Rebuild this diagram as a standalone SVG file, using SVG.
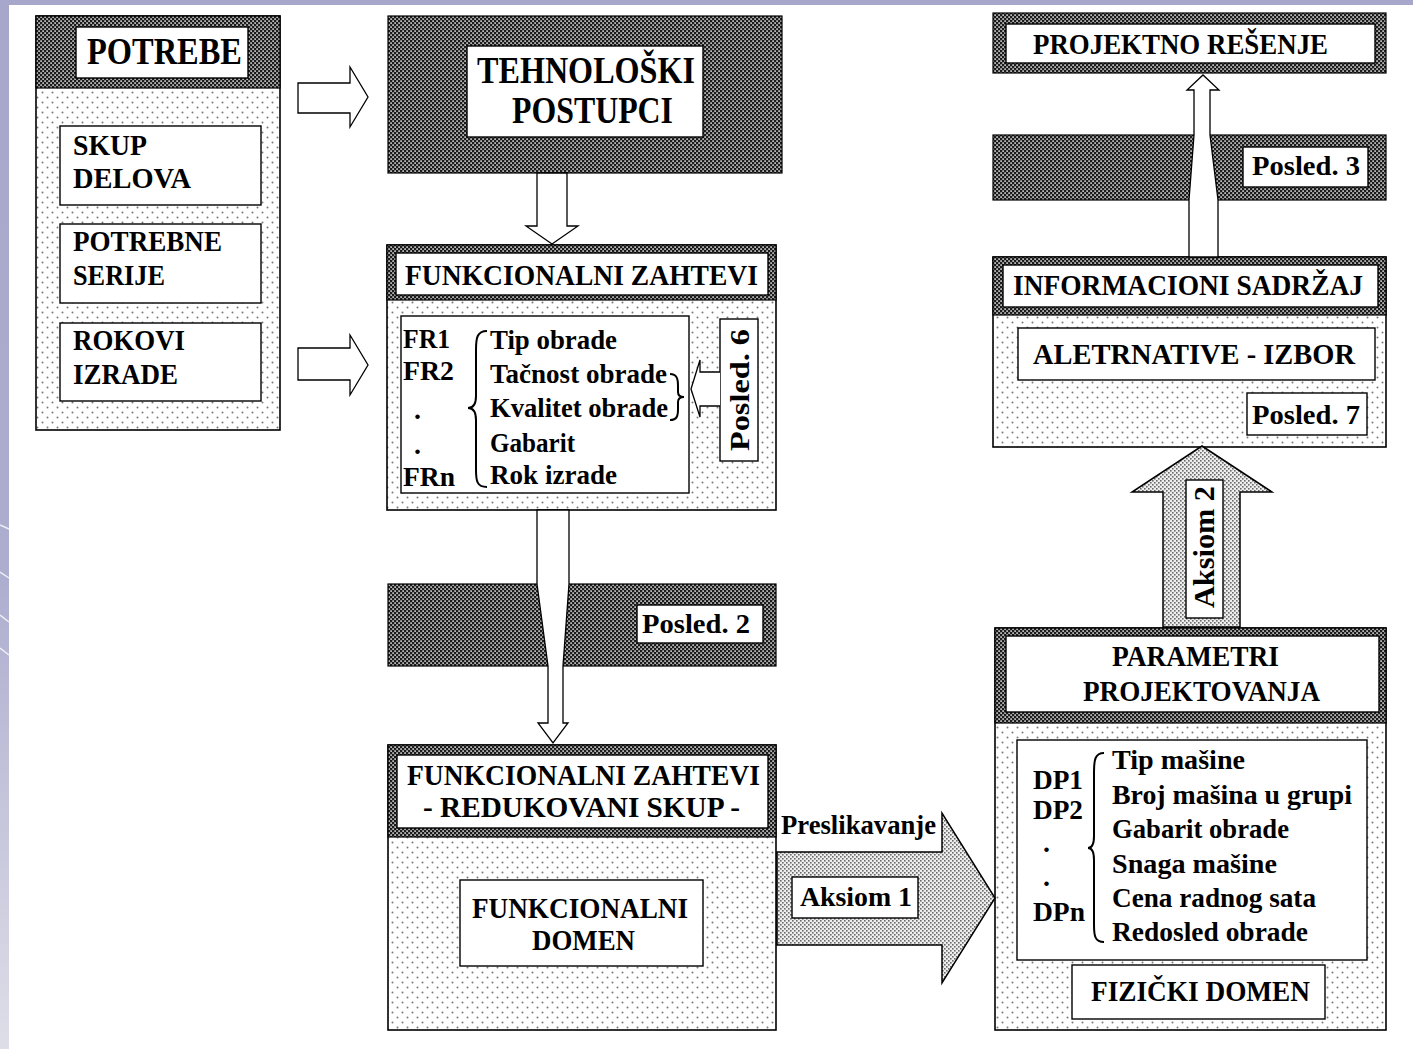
<svg xmlns="http://www.w3.org/2000/svg" width="1413" height="1049" viewBox="0 0 1413 1049">
<style>
.t{font-family:"Liberation Serif","Times New Roman",serif;font-weight:bold;fill:#000}
.s26{font-size:28px}.s27{font-size:29px}.s28{font-size:30px}.s35{font-size:37px}
.box{stroke:#000;stroke-width:1.5}
.wb{fill:#fff;stroke:#000;stroke-width:1.4}
.hd{fill:url(#dark);stroke:#000;stroke-width:1.2}
.bd{fill:url(#dots);stroke:#000;stroke-width:1.6}
.ha{fill:#fff;stroke:#000;stroke-width:1.3;stroke-linejoin:miter}
.la{fill:url(#light);stroke:#000;stroke-width:1.5}
.br{fill:none;stroke:#000;stroke-width:2}
</style>
<defs>
<pattern id="dark" width="4" height="4" patternUnits="userSpaceOnUse">
<rect width="4" height="4" fill="#1c1c1c"/>
<rect x="0.3" y="0.3" width="1.6" height="1.6" fill="#dcdcdc"/>
<rect x="2.3" y="2.3" width="1.6" height="1.6" fill="#dcdcdc"/>
</pattern>
<pattern id="dots" width="10" height="10" patternUnits="userSpaceOnUse">
<rect width="10" height="10" fill="#fff"/>
<circle cx="2.5" cy="2.5" r="1" fill="#7a7a7a"/>
<circle cx="7.5" cy="7.5" r="1" fill="#7a7a7a"/>
</pattern>
<pattern id="light" width="4" height="4" patternUnits="userSpaceOnUse">
<rect width="4" height="4" fill="#eeeeee"/>
<rect x="0" y="0" width="1.6" height="1.6" fill="#6a6a6a"/>
<rect x="2" y="2" width="1.6" height="1.6" fill="#6a6a6a"/>
</pattern>
<linearGradient id="side" x1="0" y1="0" x2="0" y2="1">
<stop offset="0" stop-color="#a7a7cb"/>
<stop offset="0.55" stop-color="#adadcf"/>
<stop offset="1" stop-color="#dedee8"/>
</linearGradient>
</defs>
<rect width="1413" height="1049" fill="#fff"/>
<rect x="0" y="0" width="9" height="1049" fill="url(#side)"/>
<rect x="0" y="0" width="1413" height="5" fill="#a7a7cb"/>
<g stroke="#fff" stroke-width="1.5" fill="none" opacity="0.8">
<path d="M0,525 L9,529"/><path d="M0,572 L9,578"/><path d="M0,615 L9,622"/><path d="M0,648 L9,655"/>
</g>

<g id="node-potrebe">
<rect class="bd" x="36" y="16" width="244" height="414"/>
<rect class="hd" x="36" y="16" width="244" height="72"/>
<rect class="wb" x="76" y="27" width="172" height="51"/>
<text class="t" x="87" y="64" font-size="38" textLength="155" lengthAdjust="spacingAndGlyphs">POTREBE</text>
<rect class="wb" x="60" y="126" width="201" height="79"/>
<text class="t s27" x="73" y="155" textLength="74" lengthAdjust="spacingAndGlyphs">SKUP</text>
<text class="t s27" x="73" y="188" textLength="118" lengthAdjust="spacingAndGlyphs">DELOVA</text>
<rect class="wb" x="60" y="224" width="201" height="79"/>
<text class="t s27" x="73" y="251" textLength="149" lengthAdjust="spacingAndGlyphs">POTREBNE</text>
<text class="t s27" x="73" y="285" textLength="92" lengthAdjust="spacingAndGlyphs">SERIJE</text>
<rect class="wb" x="60" y="323" width="201" height="78"/>
<text class="t s27" x="73" y="350" textLength="112" lengthAdjust="spacingAndGlyphs">ROKOVI</text>
<text class="t s27" x="73" y="384" textLength="105" lengthAdjust="spacingAndGlyphs">IZRADE</text>
</g>

<g id="node-tehnoloski">
<rect class="hd" x="388" y="16" width="394" height="157"/>
<rect class="wb" x="467" y="46" width="236" height="91"/>
<text class="t s35" x="477" y="83" textLength="218" lengthAdjust="spacingAndGlyphs">TEHNOLOŠKI</text>
<text class="t s35" x="512" y="123" textLength="161" lengthAdjust="spacingAndGlyphs">POSTUPCI</text>
</g>

<g id="node-funkcionalni-zahtevi">
<rect class="bd" x="387" y="245" width="389" height="265"/>
<rect class="hd" x="387" y="245" width="389" height="55"/>
<rect class="wb" x="396" y="253" width="372" height="42"/>
<text class="t s27" x="405" y="285" textLength="353" lengthAdjust="spacingAndGlyphs">FUNKCIONALNI ZAHTEVI</text>
<rect class="wb" x="401" y="316" width="288" height="177"/>
<text class="t s26" x="403" y="348" textLength="47" lengthAdjust="spacingAndGlyphs">FR1</text>
<text class="t s26" x="403" y="380" textLength="51" lengthAdjust="spacingAndGlyphs">FR2</text>
<text class="t s26" x="414" y="419">.</text>
<text class="t s26" x="414" y="454">.</text>
<text class="t s26" x="403" y="486" textLength="52" lengthAdjust="spacingAndGlyphs">FRn</text>
<path class="br" d="M487,331 C477,331 476,338 476,350 L476,396 C476,404 473,408 468,408 C473,408 476,412 476,420 L476,470 C476,481 477,487 487,487"/>
<text class="t s26" x="490" y="349" textLength="127" lengthAdjust="spacingAndGlyphs">Tip obrade</text>
<text class="t s26" x="490" y="383" textLength="177" lengthAdjust="spacingAndGlyphs">Tačnost obrade</text>
<text class="t s26" x="490" y="417" textLength="178" lengthAdjust="spacingAndGlyphs">Kvalitet obrade</text>
<text class="t s26" x="490" y="452" textLength="85" lengthAdjust="spacingAndGlyphs">Gabarit</text>
<text class="t s26" x="490" y="484" textLength="127" lengthAdjust="spacingAndGlyphs">Rok izrade</text>
<path class="br" d="M670,374 C677,374 678,379 678,386 L678,392 C678,395 680,397 684,397 C680,397 678,399 678,402 L678,409 C678,416 677,420 670,420"/>
<rect class="wb" x="720" y="319" width="38" height="142"/>
<text class="t s26" transform="translate(749,390) rotate(-90)" text-anchor="middle" textLength="122" lengthAdjust="spacingAndGlyphs">Posled. 6</text>
</g>

<g id="node-posled2">
<rect class="hd" x="388" y="584" width="388" height="82"/>
<rect class="wb" x="637" y="605" width="126" height="38"/>
<text class="t s26" x="642" y="633" textLength="108" lengthAdjust="spacingAndGlyphs">Posled. 2</text>
</g>

<g id="node-funkcionalni-redukovani">
<rect class="bd" x="388" y="745" width="388" height="285"/>
<rect class="hd" x="388" y="745" width="388" height="92"/>
<rect class="wb" x="397" y="755" width="371" height="73"/>
<text class="t s28" x="407" y="785" textLength="353" lengthAdjust="spacingAndGlyphs">FUNKCIONALNI ZAHTEVI</text>
<text class="t s28" x="423" y="817" textLength="317" lengthAdjust="spacingAndGlyphs">- REDUKOVANI SKUP -</text>
<rect class="wb" x="460" y="880" width="243" height="86"/>
<text class="t s28" x="472" y="918" textLength="216" lengthAdjust="spacingAndGlyphs">FUNKCIONALNI</text>
<text class="t s28" x="532" y="950" textLength="103" lengthAdjust="spacingAndGlyphs">DOMEN</text>
</g>

<g id="node-projektno-resenje">
<rect class="hd" x="993" y="13" width="393" height="60"/>
<rect class="wb" x="1006" y="24" width="369" height="39"/>
<text class="t s27" x="1033" y="54" textLength="295" lengthAdjust="spacingAndGlyphs">PROJEKTNO REŠENJE</text>
</g>

<g id="node-posled3">
<rect class="hd" x="993" y="135" width="393" height="65"/>
<rect class="wb" x="1243" y="147" width="125" height="40"/>
<text class="t s26" x="1252" y="175" textLength="108" lengthAdjust="spacingAndGlyphs">Posled. 3</text>
</g>

<g id="node-informacioni">
<rect class="bd" x="993" y="257" width="393" height="190"/>
<rect class="hd" x="993" y="257" width="393" height="58"/>
<rect class="wb" x="1003" y="265" width="375" height="42"/>
<text class="t s27" x="1013" y="295" textLength="350" lengthAdjust="spacingAndGlyphs">INFORMACIONI SADRŽAJ</text>
<rect class="wb" x="1018" y="328" width="357" height="52"/>
<text class="t s28" x="1033" y="364" textLength="322" lengthAdjust="spacingAndGlyphs">ALETRNATIVE - IZBOR</text>
<rect class="wb" x="1247" y="393" width="120" height="42"/>
<text class="t s26" x="1252" y="424" textLength="108" lengthAdjust="spacingAndGlyphs">Posled. 7</text>
</g>

<g id="node-parametri">
<rect class="bd" x="995" y="628" width="391" height="402"/>
<rect class="hd" x="995" y="628" width="391" height="95"/>
<rect class="wb" x="1006" y="636" width="373" height="76"/>
<text class="t s28" x="1112" y="666" textLength="167" lengthAdjust="spacingAndGlyphs">PARAMETRI</text>
<text class="t s28" x="1083" y="701" textLength="237" lengthAdjust="spacingAndGlyphs">PROJEKTOVANJA</text>
<rect class="wb" x="1017" y="740" width="350" height="220"/>
<text class="t s26" x="1033" y="789" textLength="50" lengthAdjust="spacingAndGlyphs">DP1</text>
<text class="t s26" x="1033" y="819" textLength="50" lengthAdjust="spacingAndGlyphs">DP2</text>
<text class="t s26" x="1043" y="852">.</text>
<text class="t s26" x="1043" y="886">.</text>
<text class="t s26" x="1033" y="921" textLength="52" lengthAdjust="spacingAndGlyphs">DPn</text>
<path class="br" d="M1104,753 C1095,753 1094,760 1094,772 L1094,836 C1094,844 1092,848 1088,848 C1092,848 1094,852 1094,860 L1094,925 C1094,936 1095,942 1104,942"/>
<text class="t s26" x="1112" y="769" textLength="133" lengthAdjust="spacingAndGlyphs">Tip mašine</text>
<text class="t s26" x="1112" y="804" textLength="240" lengthAdjust="spacingAndGlyphs">Broj mašina u grupi</text>
<text class="t s26" x="1112" y="838" textLength="177" lengthAdjust="spacingAndGlyphs">Gabarit obrade</text>
<text class="t s26" x="1112" y="873" textLength="165" lengthAdjust="spacingAndGlyphs">Snaga mašine</text>
<text class="t s26" x="1112" y="907" textLength="204" lengthAdjust="spacingAndGlyphs">Cena radnog sata</text>
<text class="t s26" x="1112" y="941" textLength="196" lengthAdjust="spacingAndGlyphs">Redosled obrade</text>
<rect class="wb" x="1072" y="965" width="253" height="54"/>
<text class="t s28" x="1091" y="1001" textLength="219" lengthAdjust="spacingAndGlyphs">FIZIČKI DOMEN</text>
</g>

<g id="connectors">
<path class="ha" d="M298,83 L350,83 L350,67 L368,97 L350,127 L350,113 L298,113 Z"/>
<path class="ha" d="M298,348 L350,348 L350,335 L368,365 L350,395 L350,380 L298,380 Z"/>
<path class="ha" d="M537,173 L567,173 L567,226 L578,226 L552,244 L526,226 L537,226 Z"/>
<path class="ha" d="M720,372 L700,372 L700,360 L691,389 L700,417 L700,406 L720,406"/>
<path class="ha" d="M537,510 L569,510 L569,584 L563,666 L563,723 L568,723 L553,743 L538,723 L548,723 L548,666 L537,584 Z"/>
<path class="ha" d="M1189,257 L1189,200 L1194,135 L1194,90 L1187,90 L1203,75 L1219,90 L1210,90 L1210,135 L1218,200 L1218,257 Z"/>
<path class="la" d="M777,852 L942,852 L942,813 L995,898 L942,983 L942,945 L777,945 Z"/>
<rect class="wb" x="792" y="877" width="126" height="41"/>
<text class="t s26" x="800" y="906" textLength="112" lengthAdjust="spacingAndGlyphs">Aksiom 1</text>
<text class="t s26" x="781" y="834" textLength="155" lengthAdjust="spacingAndGlyphs">Preslikavanje</text>
<path class="la" d="M1163,627 L1163,492 L1132,492 L1202,446 L1272,492 L1240,492 L1240,627 Z"/>
<rect class="wb" x="1186" y="480" width="37" height="138"/>
<text class="t s28" transform="translate(1214,547) rotate(-90)" text-anchor="middle" textLength="122" lengthAdjust="spacingAndGlyphs">Aksiom 2</text>
</g>
</svg>
